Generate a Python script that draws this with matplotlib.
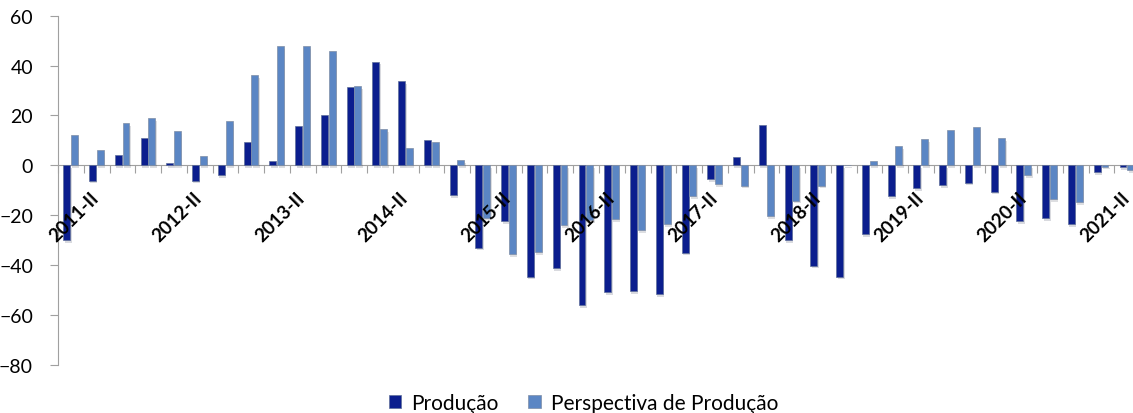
import numpy as np
import matplotlib
matplotlib.use("Agg")
import matplotlib.pyplot as plt
import matplotlib.patheffects as pe

plt.rcParams["font.family"] = ["Lato", "DejaVu Sans"]

# quarters 2011-I .. 2021-II
quarters = [f"{y}-{q}" for y in range(2011, 2022) for q in ["I", "II", "III", "IV"]][:42]

producao = [-30, -6.2, 4.1, 10.8, 0.9, -6.2, -3.8, 9.2, 1.9, 15.7,
            20.3, 31.3, 41.6, 33.9, 10.0, -12.0, -33.0, -22.3, -44.7, -41.4,
            -56.0, -51.0, -50.5, -51.7, -35.0, -5.5, 3.5, 16.0, -30, -40.3,
            -44.7, -27.7, -12.5, -9.2, -8.0, -7.0, -10.6, -22.5, -21.1, -23.6,
            -2.9, -0.7]
perspectiva = [12.1, 6.1, 16.8, 18.9, 13.8, 3.8, 17.7, 36.3, 47.9, 47.7,
               45.7, 31.9, 14.5, 6.9, 9.2, 2.2, -21.0, -35.6, -34.7, -23.9,
               -22.0, -21.6, -26.1, -23.6, -12.5, -7.5, -8.2, -20.4, -14.2, -8.2,
               0.3, 1.9, 7.7, 10.6, 14.0, 15.2, 10.8, -3.9, -13.7, -14.9,
               -0.5, -1.9]

x = np.arange(len(quarters))
shadow = [pe.SimplePatchShadow(offset=(1, -2), alpha=0.15), pe.Normal()]

fig = plt.figure(figsize=(11.33, 4.14), dpi=100)
ax = fig.add_axes([0.0512, 0.1167, 0.955, 0.843])

b1 = ax.bar(x - 0.16, producao, width=0.27, color="#0b1e8e",
            edgecolor="#5f6f9a", linewidth=0.5, label="Produção", zorder=3)
b2 = ax.bar(x + 0.14, perspectiva, width=0.27, color="#5b86c4",
            edgecolor="#7f8ea6", linewidth=0.5, label="Perspectiva de Produção", zorder=3)
for bars in (b1, b2):
    for r in bars:
        r.set_path_effects(shadow)

ax.set_xlim(-0.5, 41.5)
ax.set_ylim(-80, 60)
ax.set_yticks(range(-80, 61, 20))

ax.spines["top"].set_visible(False)
ax.spines["right"].set_visible(False)
ax.spines["left"].set_color("#a0a0a0")
ax.spines["bottom"].set_color("#a0a0a0")
ax.spines["bottom"].set_position(("data", 0))
ax.spines["bottom"].set_zorder(2)

ax.tick_params(axis="y", length=6, color="#a0a0a0", labelsize=14, pad=12)

# category boundary ticks on the zero line, labels every 4th quarter
ax.set_xticks(np.arange(-0.5, 42, 1))
ax.set_xticklabels([])
ax.tick_params(axis="x", length=6, color="#a0a0a0")
for i in x[1::4]:
    ax.annotate(quarters[i], xy=(i, 0), xytext=(4, -17), textcoords="offset points",
                rotation=45, ha="right", va="top", fontsize=13.5, fontweight="bold",
                zorder=5, annotation_clip=False)

leg = fig.legend(loc="lower center", bbox_to_anchor=(0.515, -0.045), ncol=2, frameon=False,
                 fontsize=15, handlelength=0.6, handleheight=0.6, handletextpad=0.5,
                 columnspacing=1.4)
for h in leg.legend_handles:
    h.set_path_effects([])

fig.savefig("out.png", dpi=100)
